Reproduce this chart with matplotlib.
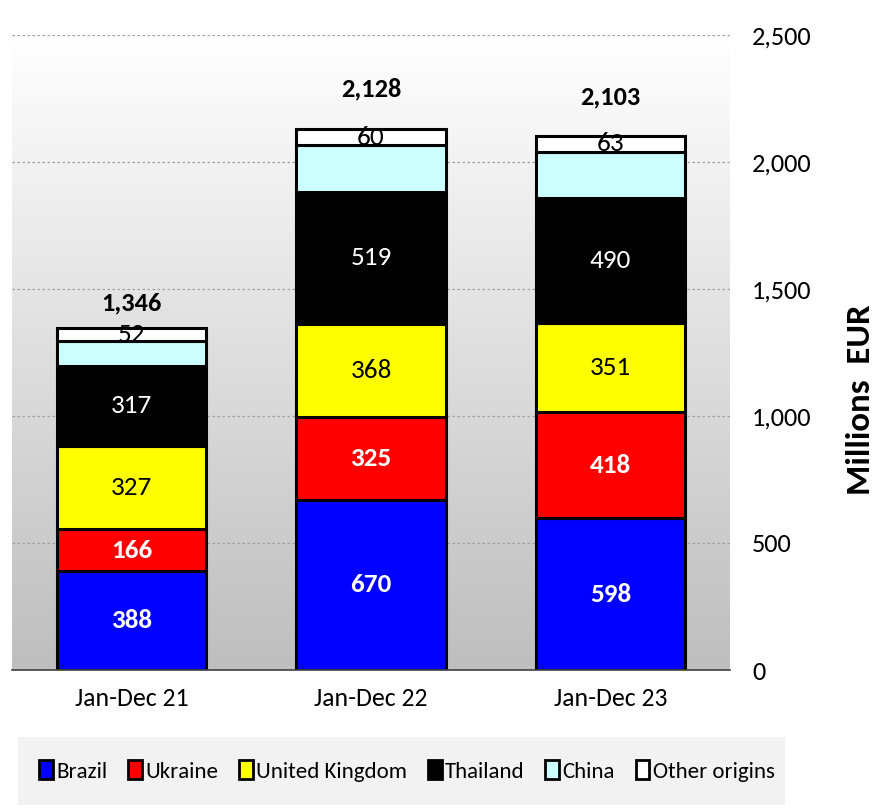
import matplotlib
matplotlib.use("Agg")
import matplotlib.pyplot as plt
import numpy as np
from matplotlib.patches import Rectangle
from matplotlib.colors import LinearSegmentedColormap

plt.rcParams['font.family'] = ['Carlito', 'DejaVu Sans']

categories = ["Jan-Dec 21", "Jan-Dec 22", "Jan-Dec 23"]
series_names = ["Brazil", "Ukraine", "United Kingdom", "Thailand", "China", "Other origins"]
brazil = [388, 670, 598]
ukraine = [166, 325, 418]
uk = [327, 368, 351]
thailand = [317, 519, 490]
china = [96, 186, 183]
other = [52, 60, 63]
totals = [1346, 2128, 2103]
yticks = [0, 500, 1000, 1500, 2000, 2500]
ytick_labels = ["0", "500", "1,000", "1,500", "2,000", "2,500"]

series = [brazil, ukraine, uk, thailand, china, other]
colors = ["#0000ff", "#ff0000", "#ffff00", "#000000", "#ccffff", "#ffffff"]
label_styles = [("white", "bold"), ("white", "bold"), ("black", "normal"),
                ("white", "normal"), None, ("black", "normal")]
total_offsets = [10, 21, 20]  # points above bar top

fig = plt.figure(figsize=(8.77, 8.10), dpi=100)
ax = fig.add_axes([12/877, 1-670/810, (730-12)/877, (670-35)/810])

x = np.arange(len(categories))
ax.set_xlim(-0.5, 2.5)
ax.set_ylim(0, 2500)

grad = np.linspace(0.0, 1.0, 256).reshape(-1, 1)
cmap = LinearSegmentedColormap.from_list("bg", ["#bebebe", "#ffffff"])
ax.imshow(grad, extent=[-0.5, 2.5, 0, 2500], aspect='auto', cmap=cmap,
          vmin=0, vmax=1, zorder=0, origin='lower')
for yv in yticks[1:]:
    ax.axhline(yv, color="#a0a0a0", linestyle=(0, (2, 2)), linewidth=0.9, zorder=1)

bottom = np.zeros(len(categories))
width = 0.623
for vals, col, st in zip(series, colors, label_styles):
    vals = np.array(vals, dtype=float)
    ax.bar(x, vals, width, bottom=bottom, color=col, edgecolor="black",
           linewidth=2.2, zorder=3)
    if st is not None:
        for xi, b, v in zip(x, bottom, vals):
            ax.text(xi, b + v/2, f"{int(v):,}", ha="center", va="center",
                    color=st[0], fontweight=st[1], fontsize=19.5, zorder=4)
    bottom += vals

for xi, t, off in zip(x, totals, total_offsets):
    ax.annotate(f"{t:,}", (xi, t), xytext=(0, off), textcoords="offset points",
                ha="center", va="bottom", fontsize=19, fontweight="bold", zorder=5)

ax.yaxis.tick_right()
ax.set_yticks(yticks)
ax.set_yticklabels(ytick_labels, fontsize=19)
ax.set_xticks(x)
ax.set_xticklabels(categories, fontsize=18.5)
ax.tick_params(axis="x", length=0, pad=12)
ax.tick_params(axis="y", length=0, pad=16)
for s in ["top", "left", "right"]:
    ax.spines[s].set_visible(False)
ax.spines["bottom"].set_color("#404040")
ax.spines["bottom"].set_linewidth(1.2)
ax.spines["bottom"].set_zorder(5)

fig.text(860/877, 1-400/810, "Millions  EUR", rotation=90, ha="center", va="center",
         fontsize=25, fontweight="bold")

fig.patches.append(Rectangle((18/877, 1-805/810), (785-18)/877, (805-737)/810,
                             transform=fig.transFigure, facecolor="#f2f2f2",
                             edgecolor="none", zorder=0))
handles = [Rectangle((0, 0), 1, 1, facecolor=c, edgecolor="black", linewidth=2)
           for c in colors]
fig.legend(handles, series_names, loc="center", bbox_to_anchor=(407/877, 1-771/810),
           ncol=6, frameon=False, fontsize=16.5, handlelength=0.6, handleheight=0.9,
           handletextpad=0.15, columnspacing=0.9, borderpad=0)

fig.savefig("out.png", dpi=100)
